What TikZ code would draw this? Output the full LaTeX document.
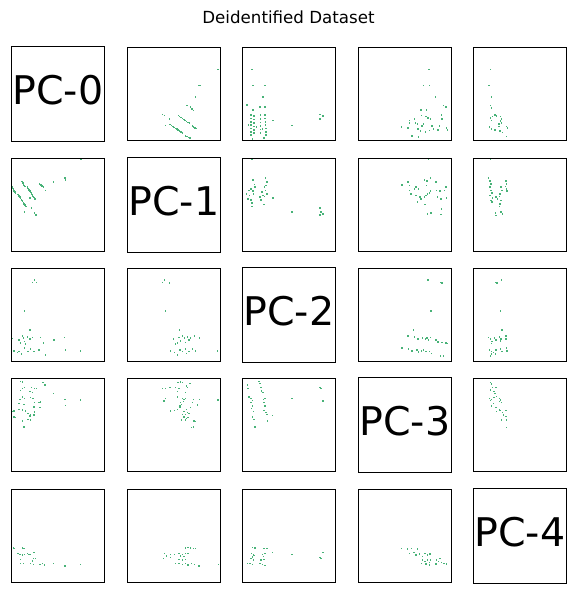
\documentclass[tikz,border=0pt]{standalone}
\usepackage{fontspec}
\setmainfont{DejaVu Sans}
\definecolor{dotc}{RGB}{72,178,120}
\tikzset{
  frame/.style={draw=black, line width=1.1pt},
  dotstyle/.style={fill=dotc, draw=none},
  pclabel/.style={font=\fontsize{39.5}{44}\selectfont, inner sep=0pt, anchor=base},
  titlestyle/.style={font=\fontsize{16.67}{20}\selectfont, inner sep=0pt, anchor=base}
}
\newcommand\dotlist[1]{\foreach \pa/\pb in {#1}{\fill[dotstyle] ({\pa-0.8},{\pb-0.8}) rectangle ++(1.6,1.6);}}
\newcommand\streak[5]{\foreach \ii in {0,...,#5}{\fill[dotstyle] ({#1+(#3-#1)*\ii/#5-0.8},{#2+(#4-#2)*\ii/#5-0.8}) rectangle ++(1.6,1.6);}}
\newcommand\offbox[2]{\draw[frame] (#1,#2) rectangle ++(93,93);}
\newcommand\diagbox[2]{\draw[frame] (#1,#2-1) rectangle ++(93,95);}
\begin{document}
\begin{tikzpicture}[x=1pt,y=-1pt]
\useasboundingbox (0,0) rectangle (577,593);
\node[titlestyle] (title) at (288.5,24) {Deidentified Dataset};

% ---- row 0
\begin{scope}[shift={(127.3,47.3)}]
\dotlist{90.7/22.3,71.3/38.3,72.7/38.3,68/49.7,59.7/58.3,63.3/60,64.7/61.7,66.3/63.3,35.3/67.3,37/68.3,42/71.7,38/78.3}
\streak{51}{68.3}{62}{76}{8}
\streak{65}{79}{69}{81.3}{3}
\streak{42.7}{77.3}{55}{85.7}{9}
\streak{58}{88.7}{62.7}{90.7}{3}
\end{scope}
\begin{scope}[shift={(242.4,47.3)}]
\dotlist{9.7/22.3,10.7/38.3,22.7/38.3,20.7/49.7,4.7/58,10.7/63,17.3/60,22.3/59.7,30.3/73.3,49.3/78.3,77.7/67.3,80.3/69,77.7/71.7,6/78,14/80,20/82,21.7/90.5,10/91.5}
\streak{8.3}{68}{8.3}{88}{6}
\streak{11.7}{69}{11.7}{86}{5}
\streak{18}{68}{18}{86}{5}
\streak{22.7}{68}{23.7}{88}{6}
\end{scope}
\begin{scope}[shift={(358.3,47.3)}]
\dotlist{70.7/22.3,65.3/38.3,71.3/38.3,77.3/49.7,85.3/58.3,87.7/60,62.7/63,68.3/62.7,43.3/79.7,49.7/80.7,51/73.3,51/75.7,53.7/88.7,56/71.7,57/76,59/76.7,60/90,62/84,63/68.3,63.7/79,67/85,67.7/69.3,69.7/70.7,72/71.7,71.3/83.3,73.7/78.7,75.3/81.7,79.7/82.7,81.3/78.7,83/67.7,83.7/71.7,88/80.7,89/82.7,59.7/81.7,65.3/76.7}
\end{scope}
\begin{scope}[shift={(473.3,47.3)}]
\dotlist{17.3/22.3,15.7/38.3,18/49.7,17/58.3,18.3/60.7,17.3/70.7,19/69.3,21.7/67.7,23/68.7,27.3/69.3,28.3/72,18.3/73.3,27.3/74,25.7/76.7,28.3/76,16.3/80,18.3/81.7,21.7/82.7,25.7/79.3,27.3/84,33/79.3,34/80.7,26.3/84,33.3/89.3,29/85.3}
\end{scope}

% ---- row 1
\begin{scope}[shift={(11.3,158.3)}]
\dotlist{69.7/1.3,53.7/19.7,54.3/21.7,42.3/24,34/32.3,18.7/40,13.3/54,20/49.7,23/54.7,24.7/56.7}
\streak{28.3}{25.7}{32}{29}{3}
\streak{10.7}{23.3}{13.7}{28.3}{4}
\streak{16}{29}{23.7}{40.7}{9}
\streak{1}{29}{4.3}{35}{5}
\streak{6.7}{36.3}{14.7}{48.3}{9}
\end{scope}
\begin{scope}[shift={(242.4,158.3)}]
\dotlist{9.7/1.3,10.3/21.7,12/26.3,12.7/29,8.7/30.7,10.3/33,11/35.7,7/37.3,5.3/40.7,8.7/41.7,9.7/45,9.7/48.3,6.3/32.3,4/36,23/19.7,24.7/24,23.7/27.3,22/29,23/32.3,24.3/35.7,19.7/34,20.3/37.3,17.7/39,18.7/41.7,22/38.3,21.7/46.3,30.3/40,49.7/54,77.7/49.7,78.7/54,80.3/55.7,77.7/56.7}
\end{scope}
\begin{scope}[shift={(358.3,158.3)}]
\dotlist{70.3/1.3,43.7/26.7,49.7/24,51/32.3,52.7/35.7,56/30.7,57.7/29,60.3/30.7,57.7/37.3,61.7/39,59.3/44,62.7/40.7,66/39,66.7/46.3,67.7/37.3,69.3/35.7,71/35,72/33,68.3/27.3,68.7/23,66/21.7,72/19.7,77.7/24,78.3/32.3,79.3/39,82.7/40.7,81.7/33,87.7/29,88.3/39.7,86/32.3,83.3/50.7,82.7/56.3,72.7/55,69.3/55.7,51/27.3}
\end{scope}
\begin{scope}[shift={(473.3,158.3)}]
\dotlist{17/1.3,15.3/19.7,16.7/23,17.7/25.7,16.7/29,17.7/32.3,18.7/35,16.7/37.3,19.3/39.7,17.7/42.3,18.7/44,27.7/29,28.7/32.3,26.7/35.7,26/38.3,24.3/40.7,22.7/39,27.7/42.3,26.7/45.7,26/48.3,32.7/23,33.3/25.7,32/28.3,33.3/30.7,33.7/33,22/55,22.7/57.3,27.7/54,29.3/55.7}
\end{scope}

% ---- row 2
\begin{scope}[shift={(11.3,268.4)}]
\dotlist{23.3/11.3,21/14,25/14,13.3/42.3,18.7/61.7,1/70,7.7/71.7,9.3/74,11/67.3,12/69.7,16/68.3,18.7/70.7,21/69,13.3/73,9.3/75,29.3/69,32/74.7,42.7/71.7,53.3/69,2.7/82.3,7.7/83,10/85.7,13.3/79.7,16.7/83,19.3/80.7,22.7/83,27.7/81.7,34.3/86.7,54.3/81.7,69.3/82.3,14.3/75.7,6/84}
\end{scope}
\begin{scope}[shift={(127.3,268.4)}]
\dotlist{37.3/11.3,35/14,42.3/14.7,38/42.3,52.3/61.7,46/70.7,51.7/69,55/67.3,57.3/69.7,60/68.3,63.3/69.7,67.3/67.3,72/69.7,53.3/72.3,50/74.7,58.3/74,61.7/71.7,43.3/82.3,47.3/84,50/86.3,52.7/81.7,55/83,58.3/80.7,59.3/85,61.7/83,65/80.7,68.3/82.3,90/82.3,48.3/75.7}
\end{scope}
\begin{scope}[shift={(358.3,268.4)}]
\dotlist{69.7/11.3,82/14,83.7/14.7,72.7/42.3,55.3/61.7,49.7/67.3,56.3/68.3,59.7/70.7,64.3/69.7,67/70.7,68.7/69.7,72/69,70.3/71.7,77.7/71.7,79.7/73.3,83.7/74,87.7/74.7,88.7/75,43.7/79.7,50.3/80.7,53.7/82.3,58.7/81.7,60.3/83.3,63/82.3,65.3/81.7,67.7/83,71/83,73/85,82/87.3,85.3/87.3}
\end{scope}
\begin{scope}[shift={(473.3,268.4)}]
\dotlist{28.3/11.3,22/14,23.7/14.7,27.3/42.3,28.7/61.7,15.3/69,17/70.7,18.7/73,18/75,21.3/69.7,22.7/71.7,26.3/68.3,27.7/70.7,27/72.3,32.7/67.3,32.7/70.7,16/81.7,18/83,18/85.7,20.3/84,22.7/81.7,27.3/80.7,28.7/83,33/79.7,33.7/82.3,22/85.7,17/87.3}
\end{scope}

% ---- row 3
\begin{scope}[shift={(11.3,378.6)}]
\dotlist{9.3/3,11/3.3,31.7/4,33.7/6.3,11/9.7,9.3/11.7,13.3/9,20/9,23.3/9.7,25.3/9.7,18.7/13,21/14,42/14.7,11/18.3,8.7/20.7,13.3/19.7,19.3/19,21.7/20,29.3/23.3,27.7/24,7.7/25,12.7/25.7,23.3/24,22.7/28.3,28.7/29,53.7/20.7,54.3/26.7,69.3/21.3,7.7/30.7,11/31.3,14.3/32.3,2.7/32.3,1/33,16.7/34.7,19.3/35.7,22.7/36.3,18.7/37.3,23.3/33.3,2.7/38.3,4.3/39,16.7/40.7,19.3/41.3,11/42.3,12/48.3,13.3/48.3}
\end{scope}
\begin{scope}[shift={(127.3,378.6)}]
\dotlist{50.7/4,53.3/3.3,55/3.7,62.7/4.7,35/10,38.3/9.7,42.7/9,48.3/9,51.7/9.7,50/13,58.3/14,60/9,59.3/7.3,38.3/19.7,36.7/22.3,50/18.3,55/19.7,56.7/20.7,58.3/19.7,56/23,53.3/24,54/25.7,52.7/27.3,66/20.7,72.3/20.7,90.7/21.3,65/24,70/26.3,43.3/32.3,47.3/31.7,50/30.7,52.7/29,56.7/33,59.3/30.7,63.3/29,60/34,55/35.7,58.3/35.7,61.7/35,56.7/38.3,59.3/39.7,60.7/39,54/41.3,58.3/41.3,66.7/42.3,68.3/43,66/48.3,64.3/49}
\end{scope}
\begin{scope}[shift={(242.4,378.6)}]
\dotlist{16.7/3,17.7/5,5/6.3,5.7/9.7,18.3/9,19/12.3,20.3/14,6.7/18.3,8.3/19.7,10/21.7,8.3/24,10/27.3,9/29.7,11/33,10/38.3,11.7/40.7,12.3/48.3,21/20.7,22.3/19.7,21.7/24,22.3/27.3,21.7/31.7,23.3/34,24.3/35.7,25/42.3,30/36.7,49.3/19.7,77.7/9,78.3/10,80.3/22.3}
\end{scope}
\begin{scope}[shift={(473.3,378.6)}]
\dotlist{17.3/3.7,18.3/5.3,19.3/8.7,22.7/8.7,17.3/11.3,20.7/13,21.7/14.7,16/19.7,17.3/22,18.3/20.7,20.7/18.7,23.3/18,26/19.7,27.3/21.3,28.3/24,26/23,20/24.7,18.3/27.3,22.7/28.7,26/31.3,27.3/32,29.3/34,32.7/32,32.7/38,33.3/41.3,28.3/41.3,23.3/33,33.3/48.7,30/36.3}
\end{scope}

% ---- row 4
\begin{scope}[shift={(11.3,489.3)}]
\dotlist{2/58.7,3.3/59,11/58.7,12.7/59,6.7/64,8.7/65,11/65.7,13.3/65,16/64,17.7/65,19.3/65,22.7/63.3,9.3/70,22/69.3,24.3/69.3,21/71.7,9.3/74,12/74.3,19.3/74,22/75,28.7/75,31/74,33.3/75.7,42/74.3,53.7/76.7,69.3/75.3}
\end{scope}
\begin{scope}[shift={(127.3,489.3)}]
\dotlist{58.3/58.7,60.7/58.3,63.3/58.7,66/59,68.3/59.3,37.3/64,36/69.3,39.3/66.7,43.3/68.3,43.3/65,47.3/65,51.7/64,55/65,58.3/64,60.7/64.3,53.3/66.7,56.7/67.3,51.7/70,55/70.7,58.3/70,48.3/74,51.7/74.3,55/75,58.3/74.3,60.7/75.7,64/74.3,67.3/75.3,71.7/76.7,91/75.3}
\end{scope}
\begin{scope}[shift={(242.4,489.3)}]
\dotlist{10/58.3,12.3/58.7,21.7/59,24.3/59.3,9/64.3,11/65,20/65,22.3/64.3,10/67.7,11.7/66,21/67.3,8.3/69.3,11/70.7,18.3/70.7,21.7/70,5/74,7.7/74.3,10/75,17.7/74.3,20/75,22.7/76,30/63.3,49.3/65,77.7/68.3,78.3/69.3,80.3/63.3}
\end{scope}
\begin{scope}[shift={(358.3,489.3)}]
\dotlist{43.3/59,49.3/59.7,53.3/59,59.3/59.7,51/64,55.7/63.3,57.7/65.7,61/64.7,64.3/67.3,66.7/64,69/65.7,71.7/64.7,64.3/70.7,66.7/72.3,69/70.7,71/73.3,72.3/70.7,63.3/74,67.7/74.7,71/75.7,78.3/70.7,80/72.3,81.7/69,83.3/73.3,85.7/74,88.3/74.7,77.7/74.7}
\end{scope}

% frames (drawn last, above the points)
\foreach \r/\ry in {0/47.3,1/158.3,2/268.4,3/378.6,4/489.3}{
  \foreach \c/\cx in {0/11.3,1/127.3,2/242.4,3/358.3,4/473.3}{
    \ifnum\r=\c \diagbox{\cx}{\ry}\else\offbox{\cx}{\ry}\fi
  }
}
% diagonal labels
\node[pclabel] (pc0) at (57.8,104.3) {PC-0};
\node[pclabel] (pc1) at (173.8,215.3) {PC-1};
\node[pclabel] (pc2) at (288.9,325.4) {PC-2};
\node[pclabel] (pc3) at (404.8,435.6) {PC-3};
\node[pclabel] (pc4) at (519.8,546.3) {PC-4};
\end{tikzpicture}
\end{document}
